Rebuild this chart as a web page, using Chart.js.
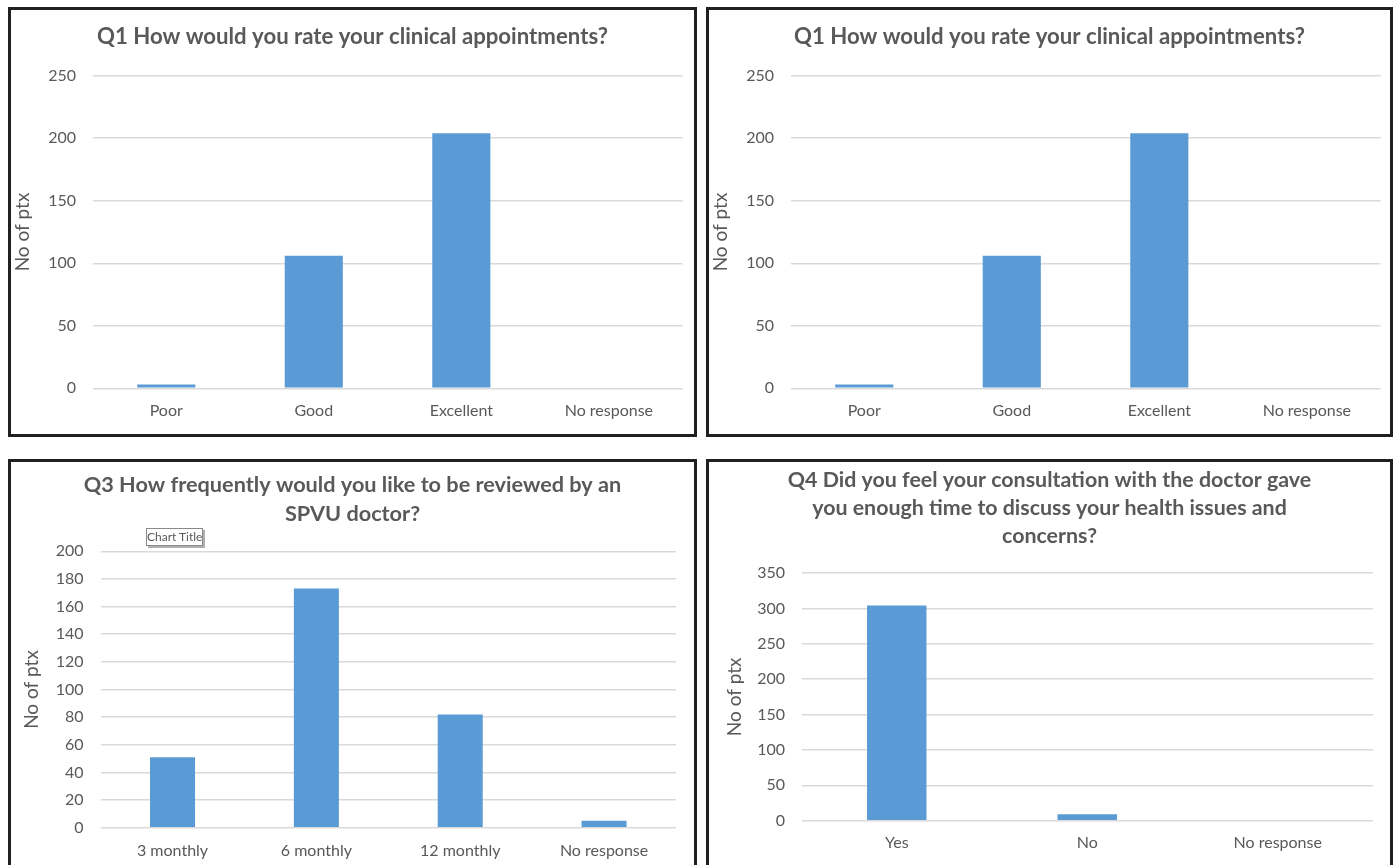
<!DOCTYPE html>
<html>
<head>
<meta charset="utf-8">
<title>Patient survey results</title>
<script src="https://cdn.jsdelivr.net/npm/chart.js@4.4.1/dist/chart.umd.min.js"></script>
<style>
  html, body { margin: 0; padding: 0; background: #ffffff; overflow: hidden; }
  body { width: 1397px; height: 865px; position: relative; font-family: Lato, "Open Sans", sans-serif; }
  .panel { position: absolute; border: 3px solid #202020; background: #fff; box-sizing: border-box; }
  .panel canvas { position: absolute; left: 0; top: 0; }
  .tip {
    position: absolute; left: 146px; top: 528px; width: 57px; height: 18px;
    border: 1px solid #8a8a8a; background: #fff; box-sizing: border-box;
    box-shadow: 2px 2px 0 #b0b0b0;
    font: 12px Lato, sans-serif; color: #595959; text-align: center; line-height: 16px;
    white-space: nowrap;
  }
</style>
</head>
<body>
<div class="panel" id="p1" style="left:8px; top:7px; width:689px; height:430px;"><canvas id="c1"></canvas></div>
<div class="panel" id="p2" style="left:706px; top:7px; width:687px; height:430px;"><canvas id="c2"></canvas></div>
<div class="panel" id="p3" style="left:8px; top:459px; width:689px; height:420px;"><canvas id="c3"></canvas></div>
<div class="panel" id="p4" style="left:706px; top:459px; width:687px; height:420px;"><canvas id="c4"></canvas></div>
<div class="tip">Chart Title</div>
<script>
// Survey answers: number of patients per response
const q1Title = ['Q1 How would you rate your clinical appointments?'];
const q1Categories = ['Poor', 'Good', 'Excellent', 'No response'];
const q1Counts = [3, 106, 204, 0];
const q1Axis = [0, 250, 50]; // min, max, step

const q3Title = ['Q3 How frequently would you like to be reviewed by an', 'SPVU doctor?'];
const q3Categories = ['3 monthly', '6 monthly', '12 monthly', 'No response'];
const q3Counts = [51, 173, 82, 5];
const q3Axis = [0, 200, 20];

const q4Title = ['Q4 Did you feel your consultation with the doctor gave', 'you enough time to discuss your health issues and', 'concerns?'];
const q4Categories = ['Yes', 'No', 'No response'];
const q4Counts = [304, 9, 0];
const q4Axis = [0, 350, 50];

const yAxisLabel = 'No of ptx';

const TEXT = '#595959';
const GRID = '#d9d9d9';
const BAR = '#5b9bd5';

// Centre the title across the whole panel, not just the padded layout box
const fullWidthTitle = {
  id: 'fullWidthTitle',
  afterLayout(chart) {
    const t = chart.titleBlock;
    if (t) { t.left = 0; t.right = chart.width; t.width = chart.width; }
  }
};

function makeChart(canvasId, panelId, title, categories, counts, axis, layout) {
  const panel = document.getElementById(panelId);
  const canvas = document.getElementById(canvasId);
  const w = panel.clientWidth, h = panel.clientHeight;
  canvas.width = w; canvas.height = h;
  canvas.style.width = w + 'px'; canvas.style.height = h + 'px';

  return new Chart(canvas, {
    type: 'bar',
    data: {
      labels: categories,
      datasets: [{ data: counts, backgroundColor: BAR, borderWidth: 0,
                   barPercentage: layout.bar, categoryPercentage: 1 }]
    },
    plugins: [fullWidthTitle],
    options: {
      responsive: false,
      animation: false,
      devicePixelRatio: 1,
      layout: { padding: { left: 0, right: layout.right, top: 0, bottom: 0 } },
      plugins: {
        legend: { display: false },
        tooltip: { enabled: false },
        title: {
          display: true, text: title, color: TEXT,
          font: { family: 'Lato', size: layout.titleSize, weight: 'bold', lineHeight: layout.lh + 'px' },
          padding: { top: layout.titleTop, bottom: layout.titleBottom }
        }
      },
      scales: {
        x: {
          grid: { display: false, drawTicks: false },
          border: { display: false },
          ticks: { color: TEXT, font: { family: 'Lato', size: 16 }, padding: layout.xPad, maxRotation: 0, autoSkip: false },
          afterFit: (s) => { s.height = layout.xH; }
        },
        y: {
          min: axis[0], max: axis[1],
          ticks: { stepSize: axis[2], color: TEXT, font: { family: 'Lato', size: 16 }, padding: layout.yPad },
          grid: { color: GRID, lineWidth: 1.5, drawTicks: false },
          border: { display: false },
          title: { display: true, text: yAxisLabel, color: TEXT,
                   font: { family: 'Lato', size: 19, lineHeight: 1.2 },
                   padding: { top: layout.yTitle, bottom: 0 } },
          afterFit: (s) => { s.width = layout.yW; }
        }
      }
    }
  });
}

makeChart('c1', 'p1', q1Title, q1Categories, q1Counts, q1Axis,
  { bar: 0.394, right: 11.4, titleSize: 22.2, lh: 29, titleTop: 12.2, titleBottom: 24.5, xH: 45.7, xPad: 13, yW: 81.5, yPad: 16.5, yTitle: 0 });
makeChart('c2', 'p2', q1Title, q1Categories, q1Counts, q1Axis,
  { bar: 0.394, right: 9.4, titleSize: 22.2, lh: 29, titleTop: 12.2, titleBottom: 24.5, xH: 45.7, xPad: 13, yW: 81.5, yPad: 16.5, yTitle: 0 });
makeChart('c3', 'p3', q3Title, q3Categories, q3Counts, q3Axis,
  { bar: 0.313, right: 18, titleSize: 21.7, lh: 29.3, titleTop: 8.4, titleBottom: 22.3, xH: 48.3, xPad: 13.7, yW: 89.6, yPad: 17, yTitle: 9.6 });
makeChart('c4', 'p4', q4Title, q4Categories, q4Counts, q4Axis,
  { bar: 0.312, right: 17, titleSize: 21.4, lh: 28, titleTop: 4, titleBottom: 23, xH: 55.3, xPad: 12.7, yW: 92.5, yPad: 16.5, yTitle: 14.6 });
</script>
</body>
</html>
